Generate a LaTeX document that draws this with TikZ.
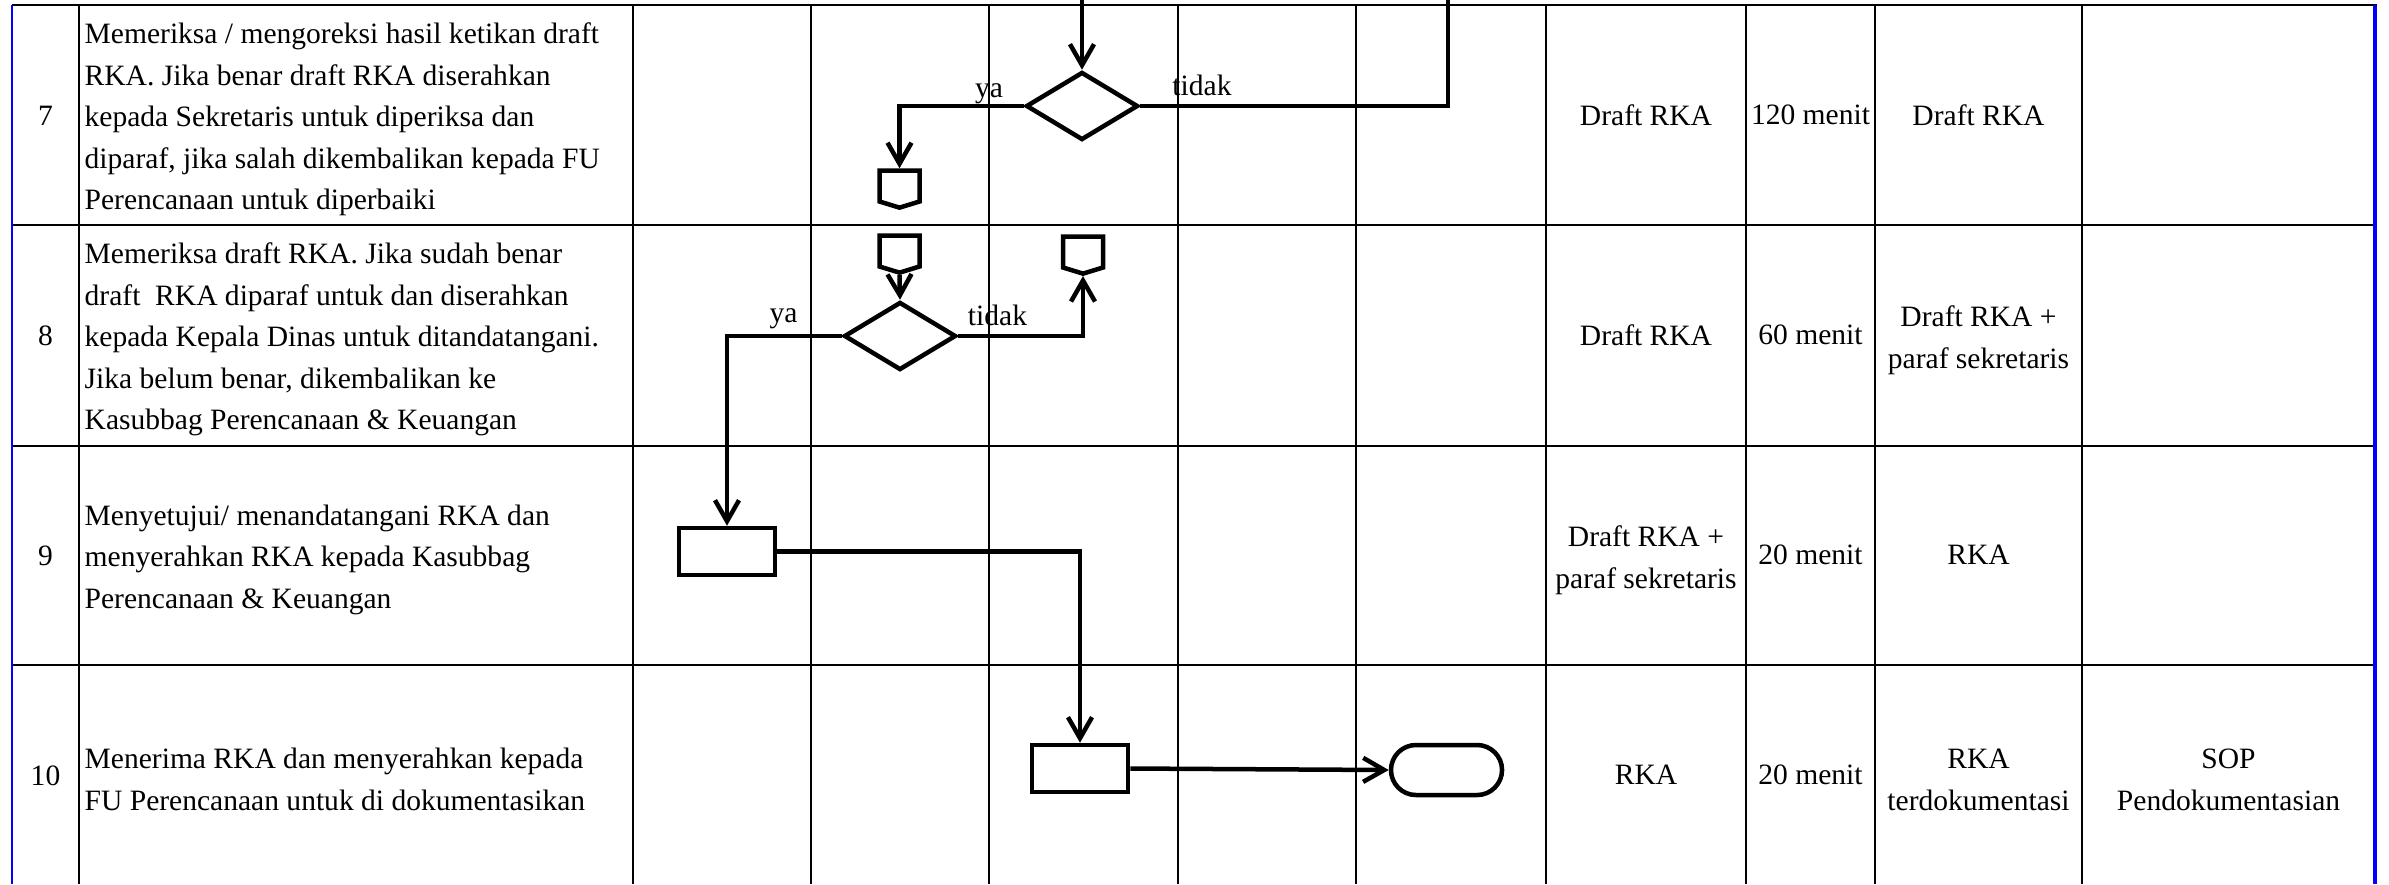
\documentclass[tikz,border=0pt]{standalone}
\usepackage{fontspec}
\setmainfont{Liberation Serif}
\usetikzlibrary{shapes.geometric,shapes.symbols,arrows.meta}

\begin{document}
\begin{tikzpicture}[x=0.01cm, y=-0.01cm, >={Straight Barb[length=0.21cm,width=0.24cm]},
    font=\fontsize{8.4}{11.8}\selectfont,
    gridline/.style={line width=0.02cm},
    flow/.style={line width=0.045cm},
    decision/.style={diamond, draw, flow, minimum width=1.12cm, minimum height=0.68cm, inner sep=0pt},
    process/.style={rectangle, draw, flow, minimum width=0.96cm, minimum height=0.47cm, inner sep=0pt},
    terminal/.style={rectangle, rounded corners=0.25cm, draw, flow, minimum width=1.11cm, minimum height=0.5cm, inner sep=0pt},
    offpage/.style={signal, signal to=south, signal pointer angle=146, draw, flow, minimum width=0.4cm, minimum height=0.31cm, inner sep=0pt},
    cell/.style={align=center, inner sep=0pt},
    desc/.style={align=left, anchor=west, inner sep=0pt}]
    \useasboundingbox (0,0) rectangle (2389,884);

    \draw[gridline] (12,5) -- (2377,5);
    \draw[gridline] (12,225) -- (2375,225);
    \draw[gridline] (12,445.5) -- (2375,445.5);
    \draw[gridline] (12,665) -- (2375,665);

    \draw[gridline] (79,5) -- (79,884);
    \draw[gridline] (633,5) -- (633,884);
    \draw[gridline] (811,5) -- (811,884);
    \draw[gridline] (989,5) -- (989,884);
    \draw[gridline] (1178,5) -- (1178,884);
    \draw[gridline] (1356,5) -- (1356,884);
    \draw[gridline] (1546,5) -- (1546,884);
    \draw[gridline] (1746,5) -- (1746,884);
    \draw[gridline] (1875,5) -- (1875,884);
    \draw[gridline] (2082,5) -- (2082,884);

    \draw[blue, line width=0.02cm] (12,5) -- (12,884);
    \draw[blue, line width=0.04cm] (2375,5) -- (2375,884);

    \node (no7) at (45.5,116) {7};
    \node (no8) at (45.5,336) {8};
    \node (no9) at (45.5,556) {9};
    \node (no10) at (45.5,776) {10};

    \node[desc] (desc7) at (84,119.5) {Memeriksa / mengoreksi hasil ketikan draft\\RKA. Jika benar draft RKA diserahkan\\kepada Sekretaris untuk diperiksa dan\\diparaf, jika salah dikembalikan kepada FU\\Perencanaan untuk diperbaiki};
    \node[desc] (desc8) at (84,339.5) {Memeriksa draft RKA. Jika sudah benar\\draft\ \ RKA diparaf untuk dan diserahkan\\kepada Kepala Dinas untuk ditandatangani.\\Jika belum benar, dikembalikan ke\\Kasubbag Perencanaan \& Keuangan};
    \node[desc] (desc9) at (84,559.5) {Menyetujui/ menandatangani RKA dan\\menyerahkan RKA kepada Kasubbag\\Perencanaan \& Keuangan};
    \node[desc] (desc10) at (84,779.5) {Menerima RKA dan menyerahkan kepada\\FU Perencanaan untuk di dokumentasikan};

    \node[cell] (in7) at (1646,115) {Draft RKA};
    \node[cell] (in8) at (1646,335) {Draft RKA};
    \node[cell] (in9) at (1646,560) {Draft RKA +\\paraf sekretaris};
    \node[cell] (in10) at (1646,775) {RKA};

    \node[cell] (time7) at (1810.5,115) {120 menit};
    \node[cell] (time8) at (1810.5,335) {60 menit};
    \node[cell] (time9) at (1810.5,555) {20 menit};
    \node[cell] (time10) at (1810.5,775) {20 menit};

    \node[cell] (out7) at (1978.5,115) {Draft RKA};
    \node[cell] (out8) at (1978.5,340) {Draft RKA +\\paraf sekretaris};
    \node[cell] (out9) at (1978.5,555) {RKA};
    \node[cell] (out10) at (1978.5,780) {RKA\\terdokumentasi};

    \node[cell] (note10) at (2228.5,780) {SOP\\Pendokumentasian};

    \node[decision] (dec7) at (1082,106) {};
    \node[offpage] (off7) at (899.5,186) {};
    \node[offpage] (off8a) at (899.5,251) {};
    \node[offpage] (off8b) at (1083,252) {};
    \node[decision] (dec8) at (900,336) {};
    \node[process] (proc9) at (727,551.5) {};
    \node[process] (proc10) at (1080,768.5) {};
    \node[terminal] (end10) at (1446.5,770) {};

    \coordinate (from6) at (1082,0);
    \coordinate (back6) at (1448,0);

    \draw[flow, ->] (from6) -- (dec7.north);
    \draw[flow, ->] (dec7.west) -| (off7.north);
    \draw[flow] (dec7.east) -| (back6);
    \draw[flow, ->] (off8a.south) -- (dec8.north);
    \draw[flow, ->] (dec8.west) -| (proc9.north);
    \draw[flow, ->] (dec8.east) -| (off8b.south);
    \draw[flow, ->] (proc9.east) -| (proc10.north);
    \draw[flow, ->] (proc10.east) -- (end10.west);

    \node[anchor=base] (ya7) at (989,97) {ya};
    \node[anchor=base] (tidak7) at (1202,95) {tidak};
    \node[anchor=base] (ya8) at (783.5,322) {ya};
    \node[anchor=base] (tidak8) at (997.5,325) {tidak};
\end{tikzpicture}
\end{document}
